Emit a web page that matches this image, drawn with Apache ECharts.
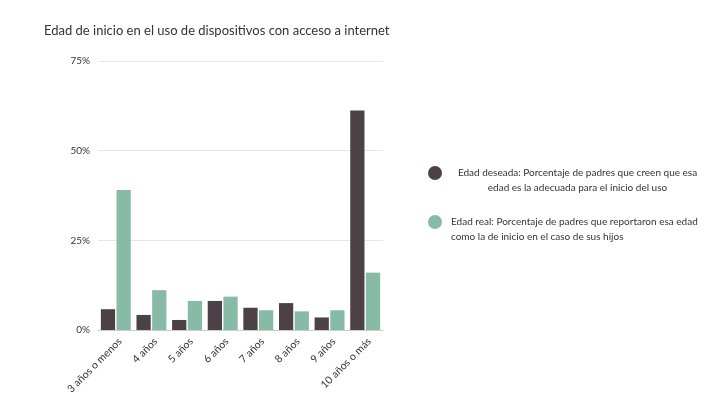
<!DOCTYPE html>
<html>
<head>
<meta charset="utf-8">
<script src="https://cdn.jsdelivr.net/npm/echarts@6/dist/echarts.min.js"></script>
<style>html,body{margin:0;padding:0;background:#fff;}#c{width:725px;height:408px;}</style>
</head>
<body>
<div id="c"></div>
<script>
const categories = ["3 años o menos","4 años","5 años","6 años","7 años","8 años","9 años","10 años o más"];
const deseada = [5.8, 4.2, 2.8, 8.1, 6.2, 7.5, 3.5, 61.2];
const real = [39.0, 11.1, 8.1, 9.3, 5.5, 5.2, 5.5, 16.0];
const yTicks = [0, 25, 50, 75];
const seriesNames = [
  "Edad deseada: Porcentaje de padres que creen que esa\nedad es la adecuada para el inicio del uso",
  "Edad real: Porcentaje de padres que reportaron esa edad\ncomo la de inicio en el caso de sus hijos"
];
const FONT = "Lato, 'Noto Sans', sans-serif";
function legendFmt(n){ return '{a| }\n' + n.split('\n').map(s => '{a|' + s + '}').join('\n'); }
const chart = echarts.init(document.getElementById('c'));
chart.setOption({
  animation: false,
  title: {
    text: "Edad de inicio en el uso de dispositivos con acceso a internet",
    left: 39, top: 19,
    textStyle: {fontFamily: FONT, fontSize: 13, fontWeight: 'normal', color: '#333'}
  },
  legend: [
    {
      data: [seriesNames[0]], left: 423, top: 148, icon: 'circle', itemWidth: 14, itemHeight: 14, itemGap: 5,
      formatter: legendFmt,
      textStyle: {fontFamily: FONT, fontSize: 10, color: '#333',
        rich: {a: {width: 245, align: 'center', padding: [0, 0, 0, 8], fontFamily: FONT, fontSize: 10, color: '#333', lineHeight: 15}}}
    },
    {
      data: [seriesNames[1]], left: 423, top: 197, icon: 'circle', itemWidth: 14, itemHeight: 14,
      formatter: legendFmt,
      textStyle: {fontFamily: FONT, fontSize: 10, color: '#333',
        rich: {a: {width: 250, align: 'left', padding: [0, 0, 0, 4], fontFamily: FONT, fontSize: 10, color: '#333', lineHeight: 15}}}
    }
  ],
  grid: {left: 98, top: 61, width: 285, height: 269, containLabel: false},
  xAxis: {
    type: 'category', data: categories,
    axisLine: {lineStyle: {color: '#ccc'}},
    axisTick: {show: false},
    axisLabel: {rotate: 45, interval: 0, fontFamily: FONT, fontSize: 10.5, color: '#333', margin: 14, padding: [0, -6, 0, 0]}
  },
  yAxis: {
    type: 'value', min: 0, max: 75, interval: 25,
    axisLine: {show: false}, axisTick: {show: false},
    splitLine: {lineStyle: {color: '#e6e6e6'}},
    axisLabel: {fontFamily: FONT, fontSize: 10, color: '#333', margin: 8,
      formatter: v => yTicks.includes(v) ? v + '%' : ''}
  },
  series: [
    {name: seriesNames[0], type: 'bar', data: deseada, itemStyle: {color: '#4b4147'}, barGap: '10%', barCategoryGap: '16%'},
    {name: seriesNames[1], type: 'bar', data: real, itemStyle: {color: '#87bba6'}}
  ]
});
</script>
</body>
</html>
